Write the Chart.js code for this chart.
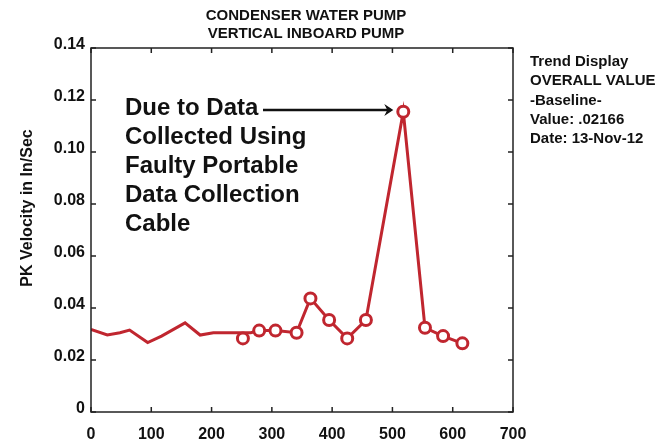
<!DOCTYPE html>
<html>
<head>
<meta charset="utf-8">
<script src="https://cdn.jsdelivr.net/npm/chart.js@4/dist/chart.umd.min.js"></script>
<style>
  html, body { margin: 0; padding: 0; background: #fff; }
  #wrap { width: 658px; height: 444px; }
</style>
</head>
<body>
<div id="wrap"><canvas id="trendChart" width="658" height="444"></canvas></div>
<script>
// flat part of the trend (no markers)
const baseX = [0, 27, 48, 64, 94, 117, 156, 181, 203, 265, 279];
const baseY = [0.0318, 0.0296, 0.0305, 0.0315, 0.0267, 0.0292, 0.0343, 0.0296, 0.0305, 0.0305, 0.0313];

// marked readings
const loneX = [252];
const loneY = [0.0283];
const trendX = [279, 306, 341, 364, 395, 425, 456, 518, 554, 584, 616];
const trendY = [0.0313, 0.0313, 0.0305, 0.0437, 0.0354, 0.0283, 0.0354, 0.1155, 0.0324, 0.0292, 0.0264];

const xTicks = [0, 100, 200, 300, 400, 500, 600, 700];
const yTicks = [0, 0.02, 0.04, 0.06, 0.08, 0.10, 0.12, 0.14];

const titleLines = ['CONDENSER WATER PUMP', 'VERTICAL INBOARD PUMP'];
const noteLines = ['Due to Data', 'Collected Using', 'Faulty Portable', 'Data Collection', 'Cable'];
const sideLines = ['Trend Display', 'OVERALL VALUE', '-Baseline-', 'Value: .02166', 'Date: 13-Nov-12'];
const yTitle = 'PK Velocity in In/Sec';
const peakIndex = 7;

const red = '#c0262f';
const ink = '#111';
const font = 'Liberation Sans, Arial, sans-serif';

const toPts = (xs, ys) => xs.map((x, i) => ({ x: x, y: ys[i] }));

const decorations = {
  id: 'decorations',
  afterDraw(chart) {
    const ctx = chart.ctx;
    const a = chart.chartArea;
    const xs = chart.scales.x, ys = chart.scales.y;
    ctx.save();

    // box + inward ticks
    ctx.strokeStyle = '#222';
    ctx.lineWidth = 1.5;
    ctx.strokeRect(a.left, a.top, a.right - a.left, a.bottom - a.top);
    ctx.beginPath();
    xTicks.forEach(v => {
      const px = xs.getPixelForValue(v);
      ctx.moveTo(px, a.bottom); ctx.lineTo(px, a.bottom - 5);
      ctx.moveTo(px, a.top); ctx.lineTo(px, a.top + 5);
    });
    yTicks.forEach(v => {
      const py = ys.getPixelForValue(v);
      ctx.moveTo(a.left, py); ctx.lineTo(a.left + 5, py);
      ctx.moveTo(a.right, py); ctx.lineTo(a.right - 5, py);
    });
    ctx.stroke();

    ctx.fillStyle = ink;
    ctx.textBaseline = 'middle';

    // title
    ctx.textAlign = 'center';
    ctx.font = 'bold 15px ' + font;
    titleLines.forEach((t, i) => ctx.fillText(t, 306, 16 + i * 17.5));

    // side block
    ctx.textAlign = 'left';
    ctx.font = 'bold 15px ' + font;
    sideLines.forEach((t, i) => ctx.fillText(t, 530, 62 + i * 19.3));

    // annotation
    ctx.font = 'bold 24px ' + font;
    noteLines.forEach((t, i) => ctx.fillText(t, 125, 108 + i * 29.2));

    // arrow to the peak
    const tipX = xs.getPixelForValue(trendX[peakIndex]) - 10;
    const tipY = 110;
    ctx.strokeStyle = ink;
    ctx.lineWidth = 2.5;
    ctx.beginPath();
    ctx.moveTo(263, tipY);
    ctx.lineTo(tipX - 3, tipY);
    ctx.stroke();
    ctx.beginPath();
    ctx.moveTo(tipX, tipY);
    ctx.lineTo(tipX - 9, tipY - 6);
    ctx.lineTo(tipX - 6, tipY);
    ctx.lineTo(tipX - 9, tipY + 6);
    ctx.closePath();
    ctx.fill();

    // y axis title
    ctx.save();
    ctx.translate(28, 208);
    ctx.rotate(-Math.PI / 2);
    ctx.textAlign = 'center';
    ctx.font = 'bold 16px ' + font;
    ctx.fillText(yTitle, 0, 0);
    ctx.restore();

    ctx.restore();
  }
};

new Chart(document.getElementById('trendChart'), {
  type: 'line',
  data: {
    datasets: [
      {
        data: toPts(trendX, trendY),
        borderColor: red,
        borderWidth: 3,
        pointRadius: 5.5,
        pointBorderWidth: 3,
        pointBorderColor: red,
        pointBackgroundColor: '#fff',
        tension: 0,
        order: 1
      },
      {
        data: toPts(loneX, loneY),
        showLine: false,
        pointRadius: 5.5,
        pointBorderWidth: 3,
        pointBorderColor: red,
        pointBackgroundColor: '#fff',
        order: 1
      },
      {
        data: toPts(baseX, baseY),
        borderColor: red,
        borderWidth: 3,
        pointRadius: 0,
        tension: 0,
        order: 2
      }
    ]
  },
  options: {
    responsive: false,
    animation: false,
    layout: { padding: { left: 0, top: 48, right: 145, bottom: 0 } },
    plugins: {
      legend: { display: false },
      tooltip: { enabled: false }
    },
    scales: {
      x: {
        type: 'linear',
        min: 0,
        max: 700,
        afterBuildTicks: s => { s.ticks = xTicks.map(v => ({ value: v })); },
        afterFit: s => { s.height = 32; },
        grid: { display: false, drawTicks: false },
        border: { display: false },
        ticks: {
          padding: 13,
          color: ink,
          font: { family: font, size: 16, weight: 'bold' },
          maxRotation: 0,
          callback: v => String(v)
        }
      },
      y: {
        min: 0,
        max: 0.14,
        afterBuildTicks: s => { s.ticks = yTicks.map(v => ({ value: v })); },
        afterFit: s => { s.width = 91; },
        grid: { display: false, drawTicks: false },
        border: { display: false },
        ticks: {
          padding: 6,
          labelOffset: -3,
          color: ink,
          font: { family: font, size: 16, weight: 'bold' },
          callback: v => v === 0 ? '0' : v.toFixed(2)
        }
      }
    }
  },
  plugins: [decorations]
});
</script>
</body>
</html>
